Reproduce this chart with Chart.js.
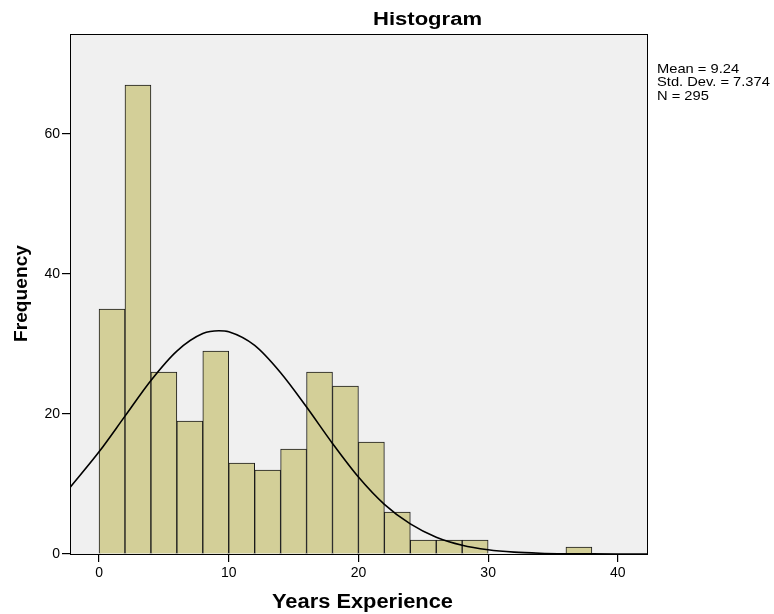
<!DOCTYPE html>
<html>
<head>
<meta charset="utf-8">
<script src="https://cdn.jsdelivr.net/npm/chart.js@4/dist/chart.umd.min.js"></script>
<style>
html,body{margin:0;padding:0;background:#fff;}
#wrap{width:774px;height:614px;}
</style>
</head>
<body>
<div id="wrap"><canvas id="c" width="774" height="614"></canvas></div>
<script>
// Histogram bins (centers of 2-year bins) and counts
const binCenters = [1, 3, 5, 7, 9, 11, 13, 15, 17, 19, 21, 23, 25, 27, 29, 31, 33, 35, 37];
const binCounts  = [35, 67, 26, 19, 29, 13, 12, 15, 26, 24, 16, 6, 2, 2, 2, 0, 0, 0, 1];
// Normal curve
const curveX = [-2.24, 0, 2, 4, 6, 8, 9.24, 10, 12, 14, 16, 18, 20, 22, 24, 26, 28, 30, 32, 34, 36, 38, 40, 42.25];
const curveY = [9.5, 14.6, 19.7, 24.8, 29.0, 31.5, 31.9, 31.75, 29.8, 25.9, 21.0, 15.8, 11.0, 7.1, 4.3, 2.4, 1.25, 0.61, 0.27, 0.11, 0.04, 0.016, 0.005, 0.001];
const xTicks = [0, 10, 20, 30, 40];
const yTicks = [0, 20, 40, 60];
const statsLines = ["Mean = 9.24", "Std. Dev. = 7.374", "N = 295"];
const chartTitle = "Histogram";
const xTitle = "Years Experience";
const yTitle = "Frequency";

const FONT = "'Liberation Sans', Arial, sans-serif";

function stretchedText(ctx, text, x, y, font, width, align, rotate) {
  ctx.save();
  ctx.font = font;
  const w = ctx.measureText(text).width;
  const sx = width / w;
  ctx.translate(x, y);
  if (rotate) ctx.rotate(-Math.PI / 2);
  ctx.scale(sx, 1);
  ctx.textAlign = align;
  ctx.textBaseline = 'alphabetic';
  ctx.fillStyle = '#000';
  ctx.fillText(text, 0, 0);
  ctx.restore();
}

const framePlugin = {
  id: 'frame',
  beforeDatasetsDraw(chart) {
    const {ctx, chartArea: a} = chart;
    ctx.save();
    ctx.fillStyle = '#f0f0f0';
    ctx.fillRect(a.left, a.top, a.right - a.left, a.bottom - a.top);
    ctx.restore();
  },
  afterDraw(chart) {
    const {ctx, chartArea: a} = chart;
    ctx.save();
    ctx.strokeStyle = '#000';
    ctx.lineWidth = 1;
    ctx.strokeRect(Math.round(a.left) + 0.5, Math.round(a.top) + 0.5, Math.round(a.right - a.left), Math.round(a.bottom - a.top));
    ctx.restore();
    // titles
    stretchedText(ctx, chartTitle, 427.5, 25, 'bold 18px ' + FONT, 109, 'center', false);
    stretchedText(ctx, xTitle, 362.5, 608, 'bold 20px ' + FONT, 181, 'center', false);
    stretchedText(ctx, yTitle, 27, 293.5, 'bold 18px ' + FONT, 97, 'center', true);
    // stats
    const widths = [81, 116, 52];
    statsLines.forEach((t, i) => {
      ctx.save();
      ctx.font = '13px ' + FONT;
      const w = ctx.measureText(t).width;
      ctx.restore();
      stretchedText(ctx, t, a.right + 10, 72.7 + i * 13.5, '13px ' + FONT, w * 1.13, 'left', false);
    });
  }
};

new Chart(document.getElementById('c'), {
  type: 'bar',
  data: {
    datasets: [
      {
        type: 'line',
        data: curveX.map((x, i) => ({x: x, y: curveY[i]})),
        borderColor: '#000',
        borderWidth: 1.6,
        pointRadius: 0,
        fill: false,
        cubicInterpolationMode: 'monotone',
        order: 0
      },
      {
        type: 'bar',
        data: binCenters.map((x, i) => ({x: x, y: binCounts[i]})),
        backgroundColor: '#d3cf98',
        borderColor: '#1a1a1a',
        borderWidth: 1,
        borderSkipped: 'start',
        barPercentage: 1,
        categoryPercentage: 1,
        order: 1
      }
    ]
  },
  options: {
    responsive: false,
    animation: false,
    layout: {padding: {left: 0, right: 127, top: 34, bottom: 0}},
    plugins: {legend: {display: false}, tooltip: {enabled: false}, title: {display: false}},
    scales: {
      x: {
        type: 'linear',
        offset: false,
        min: -2.24,
        max: 42.25,
        afterFit(s) { s.height = 60; },
        afterBuildTicks(s) { s.ticks = xTicks.map(v => ({value: v})); },
        grid: {drawOnChartArea: false, offset: false, tickLength: 8, color: '#000', lineWidth: 1.2},
        border: {display: true, color: '#000'},
        ticks: {padding: 3, color: '#000', font: {family: FONT, size: 14}, maxRotation: 0},
        title: {display: false}
      },
      y: {
        min: 0,
        max: 74.3,
        afterFit(s) { s.width = 70; },
        afterBuildTicks(s) { s.ticks = yTicks.map(v => ({value: v})); },
        grid: {drawOnChartArea: false, tickLength: 8, color: '#000', lineWidth: 1.2},
        border: {display: true, color: '#000'},
        ticks: {padding: 2, color: '#000', font: {family: FONT, size: 14}},
        title: {display: false}
      }
    }
  },
  plugins: [framePlugin]
});
</script>
</body>
</html>
